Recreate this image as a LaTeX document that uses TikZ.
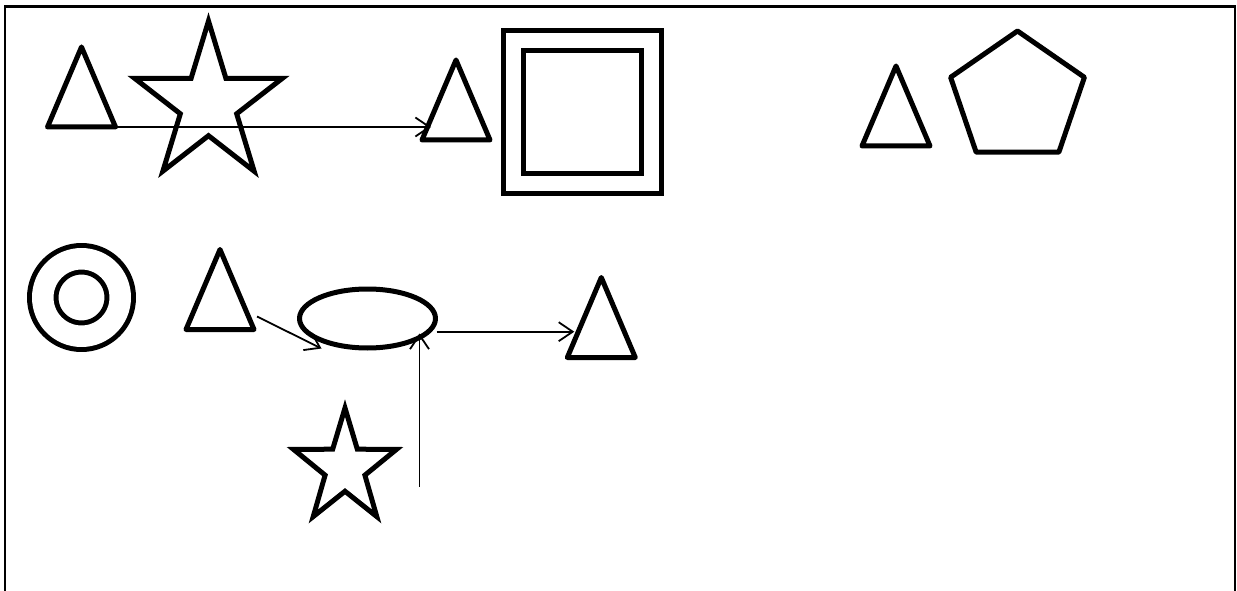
\documentclass[tikz,border=0pt]{standalone}
\usetikzlibrary{shapes.geometric,arrows.meta,calc}
\begin{document}
\begin{tikzpicture}[x=1pt,y=-1pt,
	shp/.style={draw,line width=5pt,line join=round,inner sep=0pt,outer sep=0pt},
	starshp/.style={draw,line width=5pt,inner sep=0pt,outer sep=0pt,star,star points=5},
	tri/.style={shp,isosceles triangle,isosceles triangle stretches,shape border rotate=90,minimum width=68pt,minimum height=80pt,anchor=apex},
	link/.style={line width=1.8pt,-{Straight Barb[length=14pt,width=19pt]}}]
	\useasboundingbox (0,0) rectangle (1237,591);
	% frame
	\draw[line width=2.5pt] (5,591) -- (5,6.5) -- (1235,6.5) -- (1235,591);
	% top row
	\node[tri] (t1) at (81.5,47) {};
	\node[starshp,star point ratio=2.62,minimum size=166pt,xscale=0.935] (s1) at (208.5,104) {};
	\node[tri] (t2) at (456,60) {};
	\node[shp,line join=miter,double,double distance=15pt,minimum width=138pt,minimum height=143pt] (sq) at (582.5,112) {};
	\node[tri] (t5) at (896,66) {};
	\node[shp,regular polygon,regular polygon sides=5,minimum size=134pt,xscale=1.05] (pg) at (1017.5,98) {};
	% lower part
	\node[shp,circle,double,double distance=21.5pt,minimum size=77.5pt] (cc) at (81.5,297.5) {};
	\node[tri] (t3) at (220,249.5) {};
	\node[shp,ellipse,minimum width=136pt,minimum height=59pt] (el) at (367.5,318.5) {};
	\node[tri] (t4) at (601.3,277.5) {};
	\node[starshp,star point ratio=2.58,minimum size=120pt,xscale=0.9] (s2) at (345,468) {};
	% arrows
	\coordinate (a3) at ($(el.center)+(69,13.2)$);
	\coordinate (a4) at ($(el.center)+(52,168)$);
	\draw[link] (t1.right corner) -- ($(t1.right corner -| t2.left corner)+(9,0)$);
	\draw[link] ($(t3.right corner)+(3,-13)$) -- ($(el.center)+(-46,30)$);
	\draw[link] (a3) -- ($(a3 -| t4.left corner)+(7,0)$);
	\draw[link] (a4) -- ($(el.center)+(52,15)$);
\end{tikzpicture}
\end{document}
